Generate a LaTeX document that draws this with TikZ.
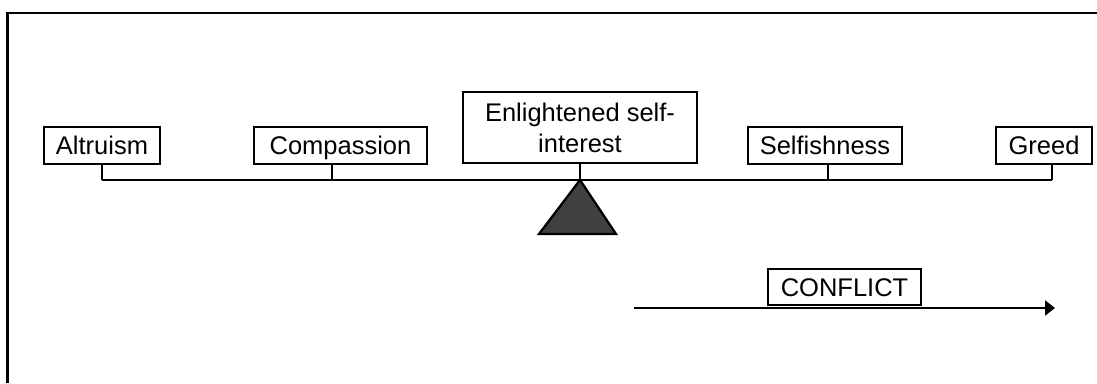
\documentclass[tikz,border=0pt]{standalone}
\usepackage{fontspec}
\setmainfont{Liberation Sans}
\usetikzlibrary{arrows.meta}
\tikzset{
  label box/.style={draw, line width=2.3pt, inner sep=0pt, minimum height=37pt,
    text height=18.5pt, text depth=0pt, font=\fontsize{25.5}{31}\selectfont},
  stem/.style={line width=2.3pt},
  beam/.style={line width=2.5pt},
  frame line/.style={line width=2.8pt}
}
\begin{document}
\begin{tikzpicture}[x=1pt,y=-1pt]
  \useasboundingbox (0,0) rectangle (1097,383);
  % outer frame (top and left edges)
  \draw[frame line] (7.5,383) -- (7.5,13) -- (1097,13);

  % value labels along the scale
  \node[label box, minimum width=116pt] (alt) at (102,145.5) {Altruism};
  \node[label box, minimum width=173pt] (comp) at (340.5,145.5) {Compassion};
  \node[draw, line width=2.3pt, minimum width=234pt, minimum height=71pt, inner sep=0pt,
        align=center, font=\fontsize{25.5}{31}\selectfont] (enl) at (580,127.5)
        {Enlightened self-\\interest};
  \node[label box, minimum width=154pt] (self) at (825,145.5) {Selfishness};
  \node[label box, minimum width=96pt] (greed) at (1044,145.5) {Greed};

  % points on the beam
  \coordinate (pAlt) at (102,180);
  \coordinate (pComp) at (332,180);
  \coordinate (pEnl) at (580,180);
  \coordinate (pSelf) at (828,180);
  \coordinate (pGreed) at (1052,180);

  % beam and stems
  \draw[beam] (pAlt) -- (pGreed);
  \draw[stem] (alt.south) -- (pAlt);
  \draw[stem] (comp.south -| pComp) -- (pComp);
  \draw[stem] (enl.south) -- (pEnl);
  \draw[stem] (self.south -| pSelf) -- (pSelf);
  \draw[stem] (greed.south -| pGreed) -- (pGreed);

  % fulcrum
  \draw[line width=2.3pt, fill=black!75, line join=miter] (pEnl) -- (616,234) -- (539,234) -- cycle;

  % conflict arrow
  \node[label box, minimum width=153pt, minimum height=36pt] (conf) at (844.5,287) {CONFLICT};
  \coordinate (aStart) at (634,308);
  \coordinate (aEnd) at (1055,308);
  \draw[line width=2.3pt, -{Triangle[length=10pt,width=15pt]}] (aStart) -- (aEnd);
\end{tikzpicture}
\end{document}
